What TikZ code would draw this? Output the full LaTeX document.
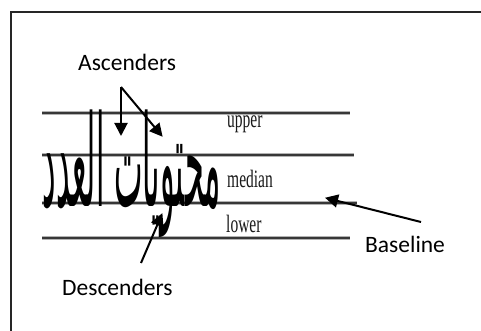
\documentclass[tikz,border=0pt]{standalone}
\usepackage{fontspec}
\usepackage{graphicx}
\usetikzlibrary{arrows.meta}
\setmainfont{Carlito}
\newfontfamily\labelserif[FakeStretch=0.62]{Liberation Serif}
\newfontfamily\arabicfont[Script=Arabic]{DejaVu Sans}
\TeXXeTstate=1
\definecolor{guideink}{RGB}{55,55,55}
\tikzset{
  guide/.style={draw=guideink, line width=1.7pt},
  guidehalo/.style={draw=black!30, line width=3.6pt},
  zone/.style={font=\labelserif\fontsize{25}{25}\selectfont, inner sep=0pt, anchor=base west, text=black!90},
  caption/.style={font=\fontsize{23.5}{24}\selectfont, inner sep=0pt, anchor=base west},
  pointer/.style={-{Triangle[length=13pt,width=13pt]}, line width=2pt, black, shorten >=-1pt}
}
\begin{document}
\begin{tikzpicture}[x=1pt,y=-1pt]
  \useasboundingbox (0,0) rectangle (481,331);
  \begin{scope}
    \clip (0,0) rectangle (481,331);
    \draw[line width=1.6pt, black!85] (11,12) rectangle (500,350);
  \end{scope}

  % the four writing lines
  \foreach \y/\xe in {113/350,155/354,203/357,238/350}{
    \draw[guidehalo] (42,\y) -- (\xe,\y);
    \draw[guide] (42,\y) -- (\xe,\y);
  }

  % sample word on the lines
  \node[inner sep=0pt, anchor=base east] (word) at (221,206)
    {\scalebox{1}[4.2]{\resizebox{178pt}{!}{\arabicfont\beginR محتويات العدد\endR}}};

  % zone names
  \node[zone] (upper) at (227,128) {upper};
  \node[zone] (median) at (227,187) {median};
  \node[zone] (lower) at (226,232) {lower};

  % captions
  \node[caption] (asc) at (78,71) {Ascenders};
  \node[caption] (desc) at (62,295) {Descenders};
  \node[caption] (base) at (365,252) {Baseline};

  % arrow ends
  \coordinate (ascfork) at (121,87);
  \coordinate (alefA) at (121,135);
  \coordinate (alefB) at (162,136);
  \coordinate (descstart) at (141,263);
  \coordinate (descend) at (162,214);
  \coordinate (basestart) at (421,222);
  \coordinate (baseend) at (326,198);

  \draw[pointer] (ascfork) -- (alefA);
  \draw[pointer] (ascfork) -- (alefB);
  \draw[pointer] (descstart) -- (descend);
  \draw[pointer] (basestart) -- (baseend);
\end{tikzpicture}
\end{document}
